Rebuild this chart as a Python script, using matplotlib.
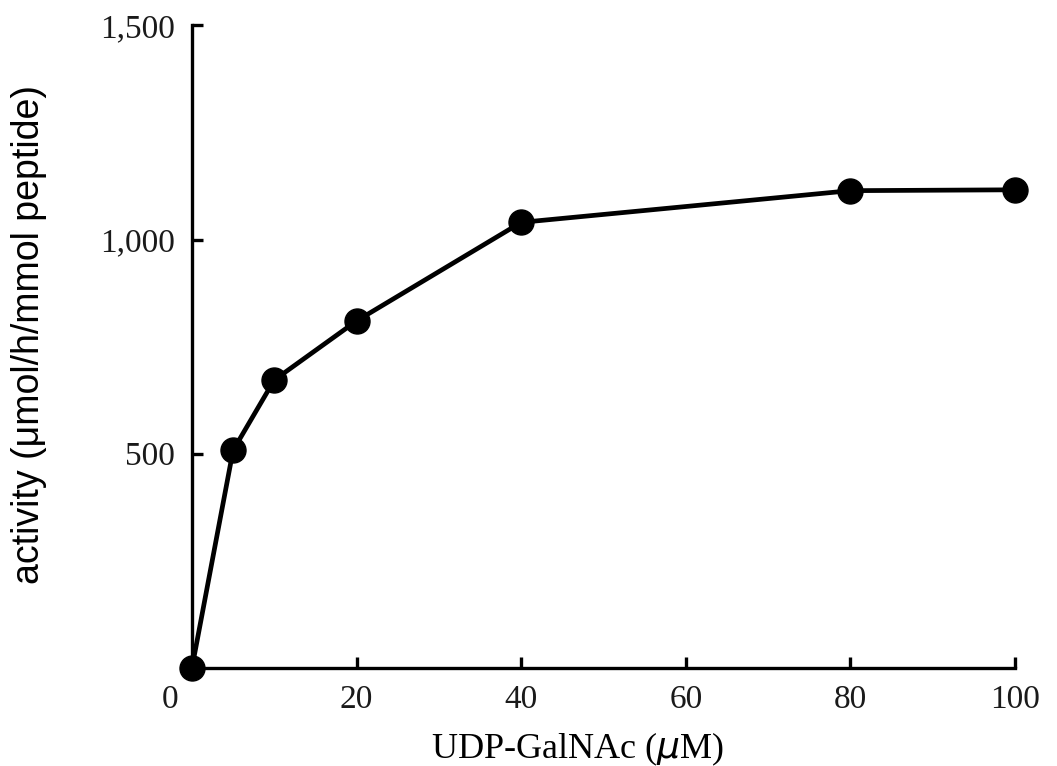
import matplotlib
matplotlib.use("Agg")
import matplotlib.pyplot as plt
import matplotlib.transforms as mtransforms

# UDP-GalNAc concentration (uM) and measured activity
conc = [0, 5, 10, 20, 40, 80, 100]
activity = [0, 508, 672, 810, 1040, 1114, 1116]

x_ticks = [0, 20, 40, 60, 80, 100]
y_ticks = [500, 1000, 1500]
y_tick_labels = ["500", "1,000", "1,500"]

serif = ["Liberation Serif", "DejaVu Serif"]

fig = plt.figure(figsize=(10.57, 7.66), dpi=100)
ax = fig.add_axes([0.1816, 0.128, 0.7787, 0.839])

ax.plot(conc, activity, color="black", linewidth=3.4, marker="o",
        markersize=18, markerfacecolor="black", markeredgecolor="black",
        clip_on=False, zorder=3)

ax.set_xlim(0, 100)
ax.set_ylim(0, 1500)

for side in ["top", "right"]:
    ax.spines[side].set_visible(False)
for side in ["left", "bottom"]:
    ax.spines[side].set_linewidth(2.4)
    ax.spines[side].set_color("black")

ax.set_xticks(x_ticks)
ax.set_xticklabels([str(t) for t in x_ticks], fontsize=24, fontfamily=serif)
ax.set_yticks(y_ticks)
ax.set_yticklabels(y_tick_labels, fontsize=24, fontfamily=serif)
ax.tick_params(axis="both", direction="in", length=8, width=2.4, pad=12,
               colors="black", labelcolor="#1a1a1a")

# the "0" label sits left of the axis corner in the original
first = ax.get_xticklabels()[0]
first.set_transform(first.get_transform() +
                    mtransforms.ScaledTranslation(-0.22, 0, fig.dpi_scale_trans))

ax.set_xlabel("UDP-GalNAc ($\\mathit{\\mu}$M)", fontsize=26, fontfamily=serif)
ax.xaxis.set_label_coords(0.469, -0.097)
ax.set_ylabel("activity (\u03bcmol/h/mmol peptide)", fontsize=27,
              fontfamily=["Liberation Sans Narrow", "Liberation Sans", "DejaVu Sans"])
ax.yaxis.set_label_coords(-0.176, 0.519)

fig.savefig("out.png", dpi=100)
